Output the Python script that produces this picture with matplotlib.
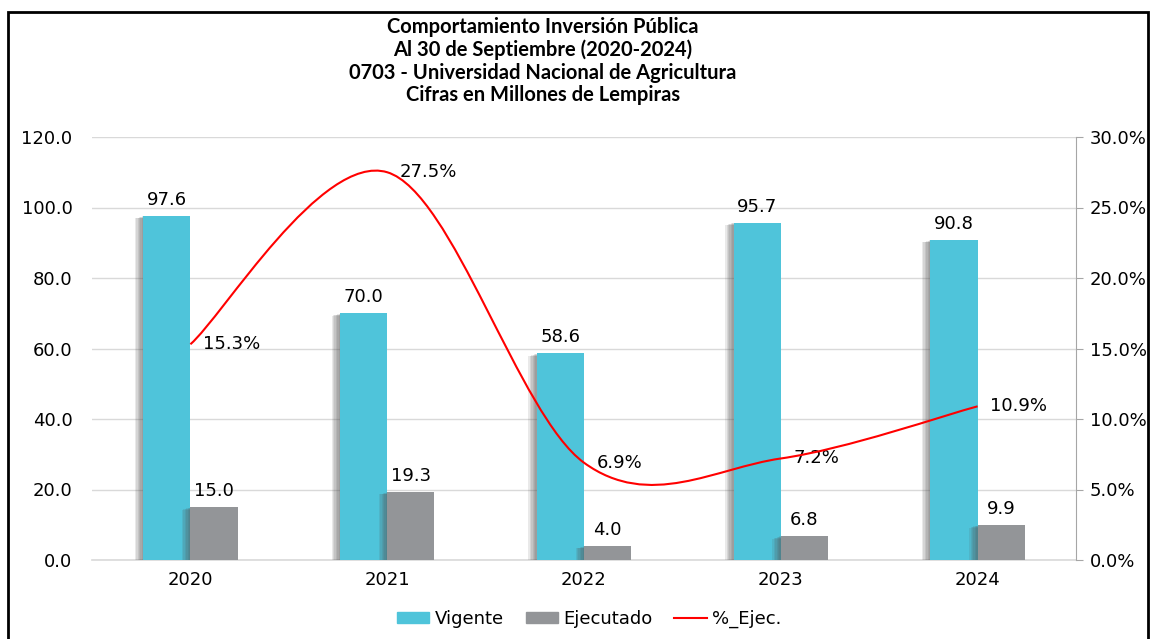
import matplotlib
matplotlib.use("Agg")
import matplotlib.pyplot as plt
from matplotlib.path import Path
from matplotlib.patches import PathPatch, Rectangle, Patch
from matplotlib.lines import Line2D
from matplotlib.ticker import FuncFormatter
import matplotlib.patheffects as pe

# data
years = ["2020", "2021", "2022", "2023", "2024"]
vigente = [97.6, 70.0, 58.6, 95.7, 90.8]
ejecutado = [15.0, 19.3, 4.0, 6.8, 9.9]
pct_ejec = [15.3, 27.5, 6.9, 7.2, 10.9]

CYAN = "#4FC4DA"
GRAY = "#939598"
RED = "#FF0000"
FONT = "DejaVu Sans"
FS = 13

fig = plt.figure(figsize=(11.51, 6.39), dpi=100)
ax = fig.add_axes([92 / 1151, 1 - 560 / 639, 984 / 1151, 423 / 639])
ax2 = ax.twinx()

x = list(range(len(years)))
w = 0.24
# soft shadow to the left of the bars
shadow = [pe.SimplePatchShadow(offset=(-k, -0.3 * k), shadow_rgbFace="#555555", alpha=0.13)
          for k in (1, 2, 3, 4, 5, 6)] + [pe.Normal()]
b1 = ax.bar([i - w / 2 for i in x], vigente, w, color=CYAN, zorder=3)
b2 = ax.bar([i + w / 2 for i in x], ejecutado, w, color=GRAY, zorder=3)
for b in list(b1) + list(b2):
    b.set_path_effects(shadow)

for i, v in enumerate(vigente):
    ax.annotate(f"{v:.1f}", (i - w / 2, v), xytext=(0, 5), textcoords="offset points",
                ha="center", va="bottom", fontsize=FS, family=FONT, zorder=5)
for i, v in enumerate(ejecutado):
    ax.annotate(f"{v:.1f}", (i + w / 2, v), xytext=(0, 5), textcoords="offset points",
                ha="center", va="bottom", fontsize=FS, family=FONT, zorder=5)

ax.set_xlim(-0.5, len(years) - 0.5)
ax.set_ylim(0, 120)
ax.set_yticks(range(0, 121, 20))
ax.yaxis.set_major_formatter(FuncFormatter(lambda v, p: f"{v:.1f}"))
ax.set_xticks(x)
ax.set_xticklabels(years)
ax.grid(axis="y", color="#D9D9D9", linewidth=1, zorder=0)
ax.set_axisbelow(True)
for s in ["top", "left", "right"]:
    ax.spines[s].set_visible(False)
ax.spines["bottom"].set_color("#D9D9D9")
ax.spines["bottom"].set_linewidth(1.2)
ax.tick_params(axis="y", length=0, pad=14, labelsize=FS)
ax.tick_params(axis="x", length=0, pad=8, labelsize=FS)

# smoothed line (Bezier path, Excel-like smoothing)
pts = list(zip(x, pct_ejec))
verts = [pts[0]]
codes = [Path.MOVETO]
n = len(pts)
for i in range(n - 1):
    p0 = pts[max(i - 1, 0)]
    p1 = pts[i]
    p2 = pts[i + 1]
    p3 = pts[min(i + 2, n - 1)]
    c1 = (p1[0] + (p2[0] - p0[0]) / 6, p1[1] + (p2[1] - p0[1]) / 6)
    c2 = (p2[0] - (p3[0] - p1[0]) / 6, p2[1] - (p3[1] - p1[1]) / 6)
    verts += [c1, c2, p2]
    codes += [Path.CURVE4] * 3
ax2.add_patch(PathPatch(Path(verts, codes), facecolor="none", edgecolor=RED, lw=1.5, zorder=4))
for i, v in enumerate(pct_ejec):
    ax2.annotate(f"{v:.1f}%", (i, v), xytext=(9, 0), textcoords="offset points",
                 ha="left", va="center", fontsize=FS, family=FONT)

ax2.set_ylim(0, 30)
ax2.set_yticks(range(0, 31, 5))
ax2.yaxis.set_major_formatter(FuncFormatter(lambda v, p: f"{v:.1f}%"))
for s in ["top", "left", "bottom"]:
    ax2.spines[s].set_visible(False)
ax2.spines["right"].set_color("#A6A6A6")
ax2.tick_params(axis="y", length=5, color="#A6A6A6", pad=5, labelsize=FS)

for t in ax.get_xticklabels() + ax.get_yticklabels() + ax2.get_yticklabels():
    t.set_family(FONT)

# title
title = ("Comportamiento Inversión Pública\nAl 30 de Septiembre (2020-2024)\n"
         "0703 - Universidad Nacional de Agricultura\nCifras en Millones de Lempiras")
fig.text(543 / 1151, 1 - 61 / 639, title, ha="center", va="center", fontsize=14.5,
         fontweight="bold", family="Lato", linespacing=1.17)

# legend
handles = [Patch(color=CYAN), Patch(color=GRAY), Line2D([], [], color=RED, lw=1.5)]
fig.legend(handles, ["Vigente", "Ejecutado", "%_Ejec."], loc="center",
           bbox_to_anchor=(0.512, 1 - 619 / 639), ncol=3, frameon=False,
           prop={"family": FONT, "size": FS}, handlelength=1.8, handleheight=0.6,
           columnspacing=1.2, handletextpad=0.3)

# frame
fig.patches.append(Rectangle((8 / 1151, -0.05), 1140 / 1151, 1.05 - 12 / 639,
                             transform=fig.transFigure, fill=False, edgecolor="black", lw=2))

fig.savefig("out.png", dpi=100)
